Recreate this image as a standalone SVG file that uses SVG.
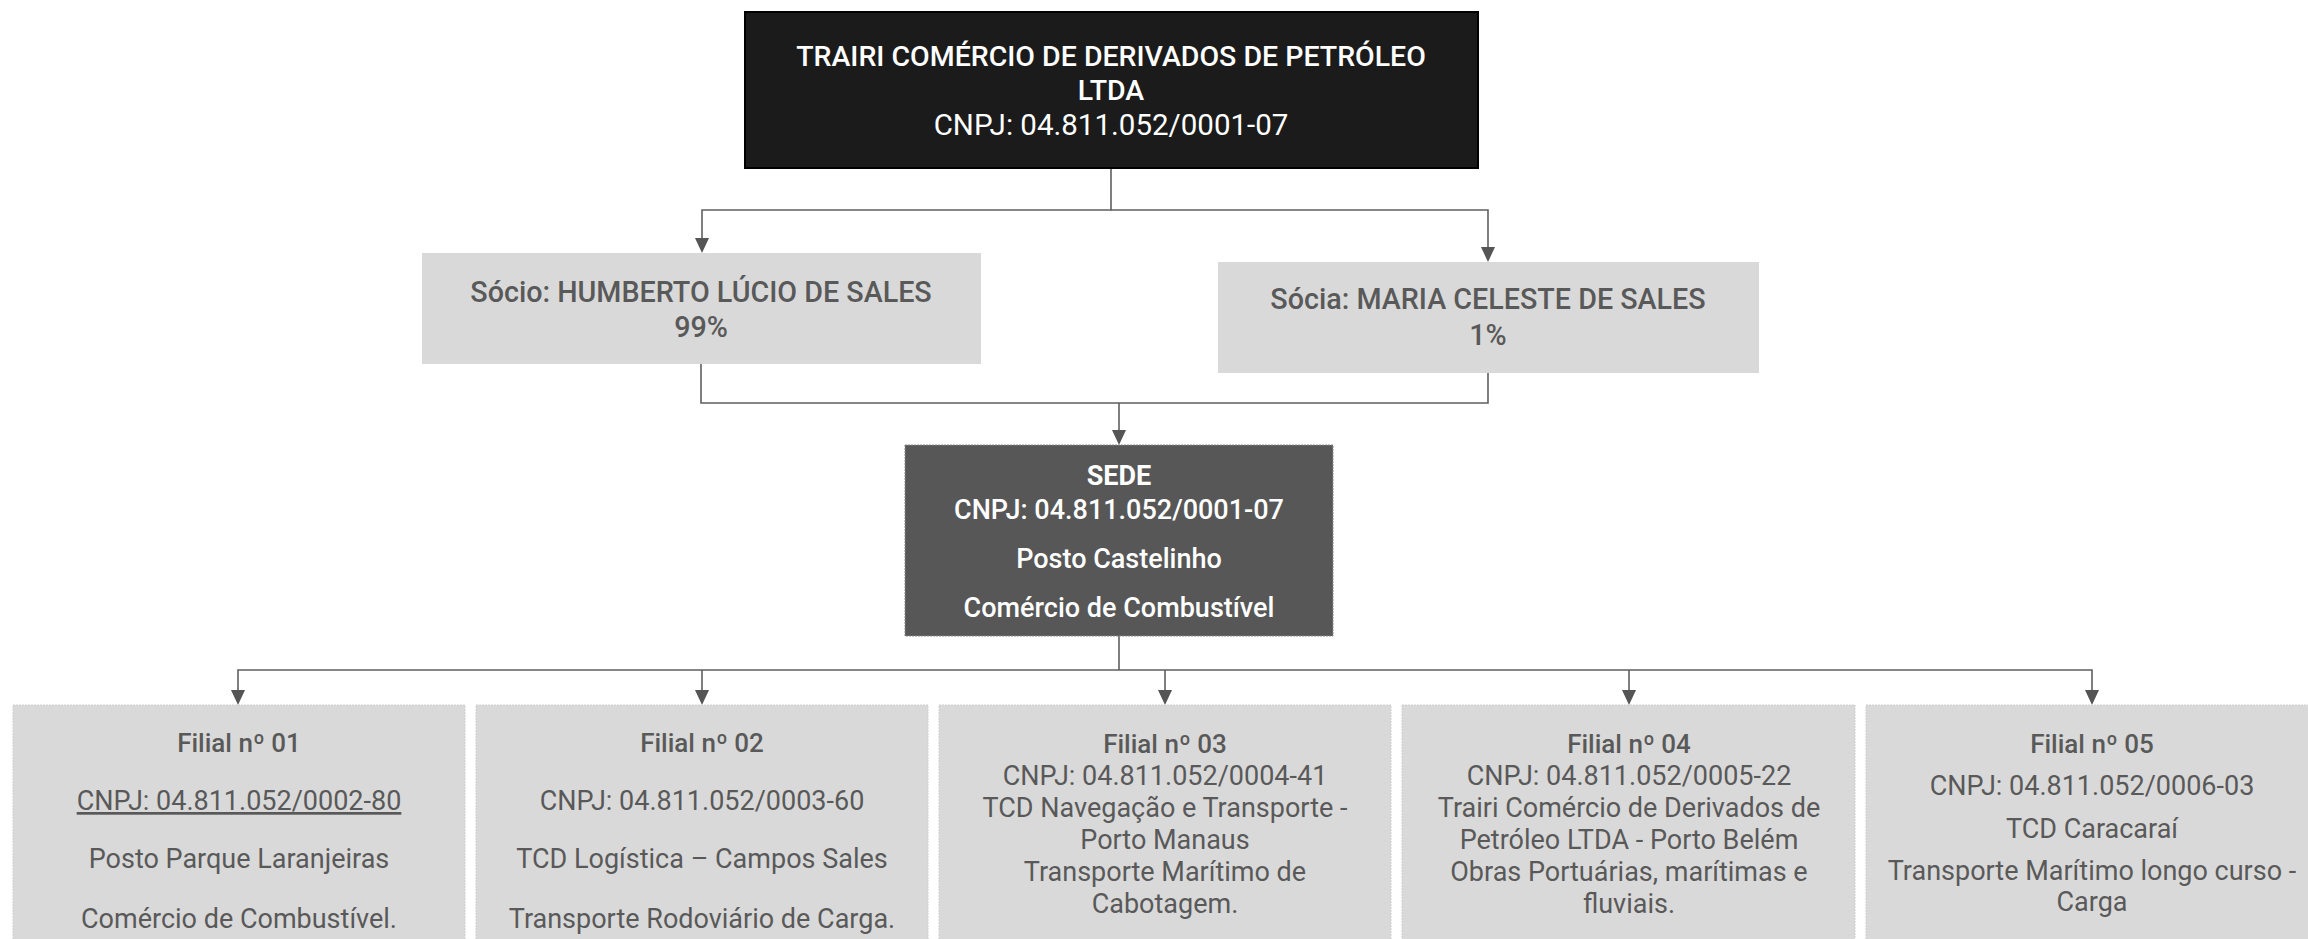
<svg xmlns="http://www.w3.org/2000/svg" width="2308" height="939" viewBox="0 0 2308 939">
<defs>
<style>
text{font-family:Roboto,"Liberation Sans",sans-serif;text-anchor:middle}
.w{fill:#ffffff}
.g{fill:#595959}
.m{font-weight:500}
.b{font-weight:700}
.tt{font-size:28.5px}
.tc{font-size:29.5px}
.tp{font-size:28.7px}
.t27{font-size:27px}
.t26{font-size:26px}
.lt{fill:#d9d9d9}
.fl{fill:#d9d9d9;stroke:#cfcfcf;stroke-width:1;stroke-dasharray:2 1}
.cn{fill:none;stroke:#5f5f5f;stroke-width:1.6}
.ah{fill:#555555}
</style>
</defs>

<g id="connectors">
<path class="cn" d="M1111,168 V210 H702 V238"/>
<path class="cn" d="M1111,210 H1488 V247"/>
<path class="cn" d="M701,364 V403 H1488 V373"/>
<path class="cn" d="M1119,403 V430"/>
<path class="cn" d="M1119,636 V670"/>
<path class="cn" d="M238,690 V670 H2092 V690"/>
<path class="cn" d="M702,670 V690"/>
<path class="cn" d="M1165,670 V690"/>
<path class="cn" d="M1629,670 V690"/>
<path class="ah" d="M695,238 L709,238 L702,253 Z"/>
<path class="ah" d="M1481,247 L1495,247 L1488,262 Z"/>
<path class="ah" d="M1112,430 L1126,430 L1119,445 Z"/>
<path class="ah" d="M231,690 L245,690 L238,705 Z"/>
<path class="ah" d="M695,690 L709,690 L702,705 Z"/>
<path class="ah" d="M1158,690 L1172,690 L1165,705 Z"/>
<path class="ah" d="M1622,690 L1636,690 L1629,705 Z"/>
<path class="ah" d="M2085,690 L2099,690 L2092,705 Z"/>
</g>

<g id="trairi">
<rect x="745" y="12" width="733" height="156" fill="#1b1b1b" stroke="#000000" stroke-width="2"/>
<text class="w m tt" x="1111" y="66">TRAIRI COMÉRCIO DE DERIVADOS DE PETRÓLEO</text>
<text class="w m tt" x="1111" y="100">LTDA</text>
<text class="w tc" x="1111" y="135">CNPJ: 04.811.052/0001-07</text>
</g>

<g id="socio-humberto">
<rect class="lt" x="422" y="253" width="559" height="111"/>
<text class="g m tp" x="701" y="302">Sócio: HUMBERTO LÚCIO DE SALES</text>
<text class="g m tp" x="701" y="337">99%</text>
</g>

<g id="socia-maria">
<rect class="lt" x="1218" y="262" width="541" height="111"/>
<text class="g m tp" x="1488" y="309">Sócia: MARIA CELESTE DE SALES</text>
<text class="g m tp" x="1488" y="345">1%</text>
</g>

<g id="sede">
<rect x="905" y="445" width="428" height="191" fill="#575757" stroke="#8a8a8a" stroke-width="1" stroke-dasharray="2 1"/>
<text class="w b t27" x="1119" y="485">SEDE</text>
<text class="w m t27" x="1119" y="519">CNPJ: 04.811.052/0001-07</text>
<text class="w m t27" x="1119" y="568">Posto Castelinho</text>
<text class="w m t27" x="1119" y="617">Comércio de Combustível</text>
</g>

<g id="filial-01">
<rect class="fl" x="13" y="705" width="452" height="250"/>
<text class="g m t26" x="239" y="752">Filial nº 01</text>
<text class="g t27" x="239" y="810" text-decoration="underline">CNPJ: 04.811.052/0002-80</text>
<text class="g t27" x="239" y="868">Posto Parque Laranjeiras</text>
<text class="g t27" x="239" y="928">Comércio de Combustível.</text>
</g>

<g id="filial-02">
<rect class="fl" x="476" y="705" width="452" height="250"/>
<text class="g m t26" x="702" y="752">Filial nº 02</text>
<text class="g t27" x="702" y="810">CNPJ: 04.811.052/0003-60</text>
<text class="g t27" x="702" y="868">TCD Logística – Campos Sales</text>
<text class="g t27" x="702" y="928">Transporte Rodoviário de Carga.</text>
</g>

<g id="filial-03">
<rect class="fl" x="939" y="705" width="452" height="250"/>
<text class="g m t26" x="1165" y="753">Filial nº 03</text>
<text class="g t27" x="1165" y="785">CNPJ: 04.811.052/0004-41</text>
<text class="g t27" x="1165" y="817">TCD Navegação e Transporte -</text>
<text class="g t27" x="1165" y="849">Porto Manaus</text>
<text class="g t27" x="1165" y="881">Transporte Marítimo de</text>
<text class="g t27" x="1165" y="913">Cabotagem.</text>
</g>

<g id="filial-04">
<rect class="fl" x="1402" y="705" width="453" height="250"/>
<text class="g m t26" x="1629" y="753">Filial nº 04</text>
<text class="g t27" x="1629" y="785">CNPJ: 04.811.052/0005-22</text>
<text class="g t27" x="1629" y="817">Trairi Comércio de Derivados de</text>
<text class="g t27" x="1629" y="849">Petróleo LTDA - Porto Belém</text>
<text class="g t27" x="1629" y="881">Obras Portuárias, marítimas e</text>
<text class="g t27" x="1629" y="913">fluviais.</text>
</g>

<g id="filial-05">
<rect class="fl" x="1866" y="705" width="452" height="250"/>
<text class="g m t26" x="2092" y="753">Filial nº 05</text>
<text class="g t27" x="2092" y="795">CNPJ: 04.811.052/0006-03</text>
<text class="g t27" x="2092" y="838">TCD Caracaraí</text>
<text class="g t27" x="2092" y="880">Transporte Marítimo longo curso -</text>
<text class="g t27" x="2092" y="911">Carga</text>
</g>
</svg>
